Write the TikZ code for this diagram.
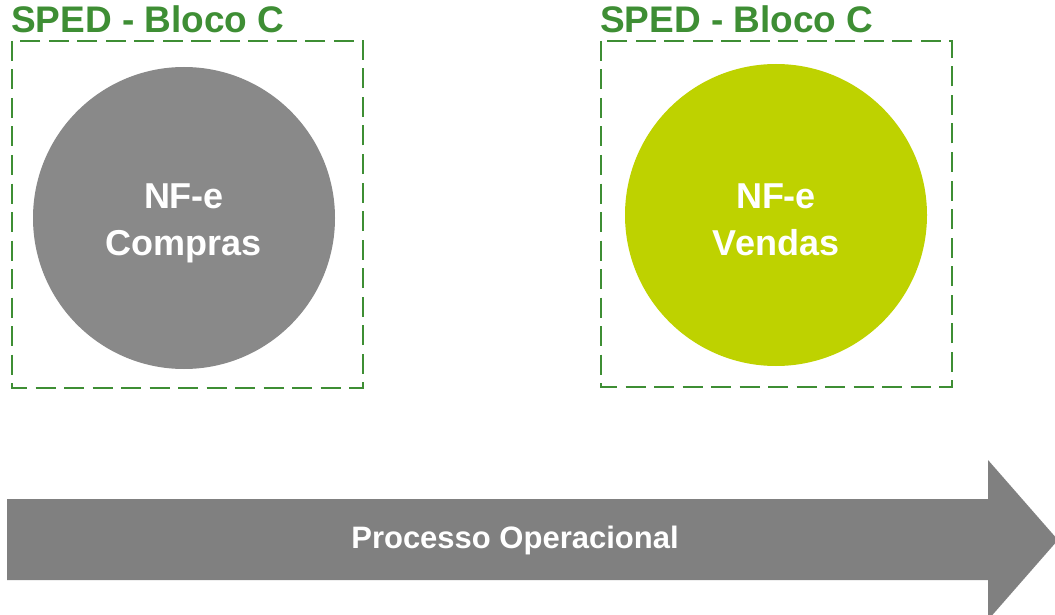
\documentclass[tikz,border=0pt]{standalone}
\usepackage{fontspec}
\setmainfont{Liberation Sans}
\definecolor{spedgreen}{RGB}{62,142,52}
\definecolor{circgray}{RGB}{137,137,137}
\definecolor{circlime}{RGB}{190,210,0}
\definecolor{arrowgray}{RGB}{128,128,128}
\begin{document}
\begin{tikzpicture}[x=1pt,y=-1pt,
  dashbox/.style={draw=spedgreen,line width=2pt,dash pattern=on 20pt off 8.5pt},
  titletext/.style={text=spedgreen,font=\fontsize{37}{40}\selectfont\bfseries,anchor=base west,inner sep=0pt},
  bigcirc/.style={circle,minimum size=302pt,inner sep=0pt},
  circtext/.style={text=white,align=center,font=\fontsize{36}{47}\selectfont\bfseries},
  arrowtext/.style={text=white,font=\fontsize{31}{36}\selectfont\bfseries}]
\useasboundingbox (0,0) rectangle (1055,615);
% boxes
\draw[dashbox] (12,41) rectangle (363,388);
\draw[dashbox] (601,41) rectangle (952,387);
\node[titletext] (t1) at (11,33) {SPED - Bloco C};
\node[titletext] (t2) at (600,33) {SPED - Bloco C};
% circles
\node[bigcirc,fill=circgray] (c1) at (184,218) {};
\node[bigcirc,fill=circlime] (c2) at (776,215) {};
\node[circtext] (l1) at (184,223) {NF-e\\Compras};
\node[circtext] (l2) at (776,220) {NF-e\\Vendas};
% arrow
\fill[arrowgray] (7,499) -- (988,499) -- (988,460) -- (1058,540) -- (988,620) -- (988,580) -- (7,580) -- cycle;
\node[arrowtext] (p) at (515,540) {Processo Operacional};
\end{tikzpicture}
\end{document}
